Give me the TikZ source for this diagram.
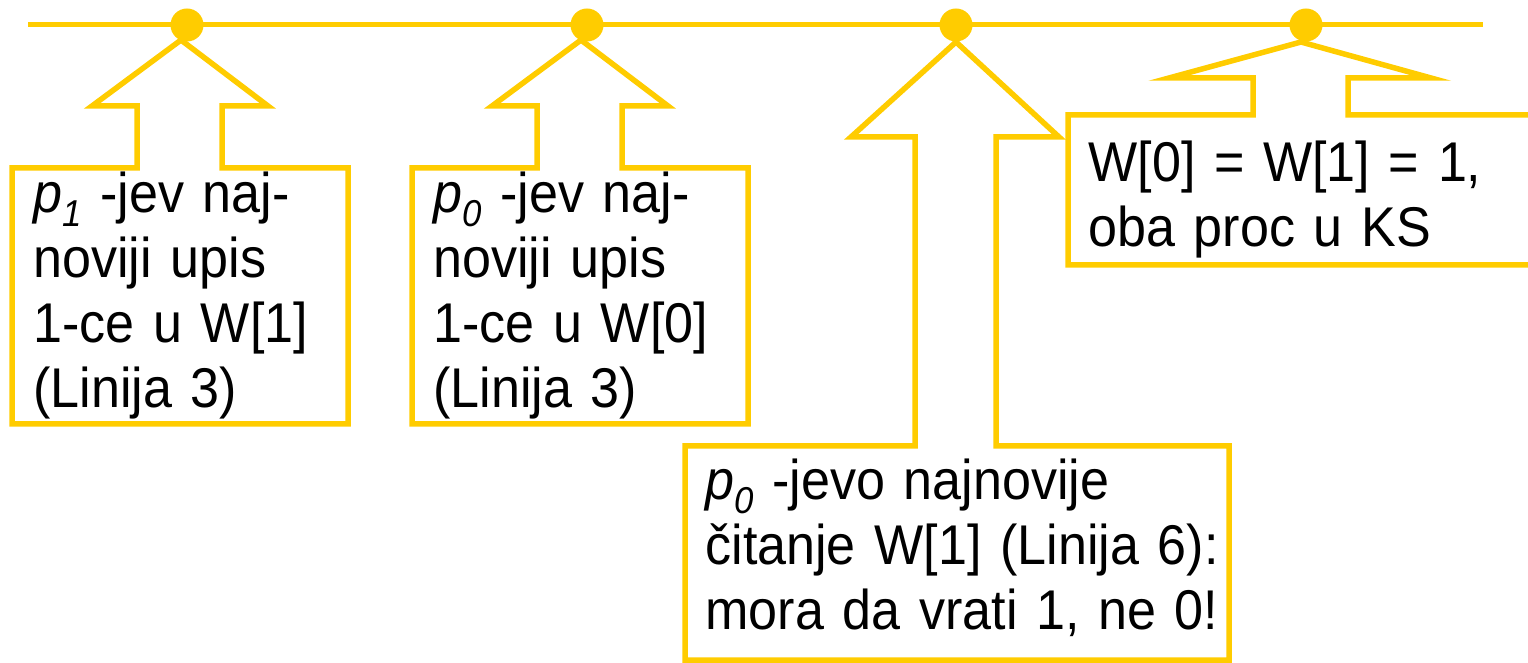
\documentclass[tikz,border=0pt]{standalone}
\usepackage{fontspec}
\setmainfont{Liberation Sans}[FakeStretch=0.93]
\definecolor{calloutyellow}{HTML}{FFCC00}
% italic process name with a lowered, smaller subscript
\newcommand{\procname}[1]{\textit{p\raisebox{-7pt}{\fontsize{18.7}{20}\selectfont #1}}}
\tikzset{
  outline/.style={draw=calloutyellow, line width=2.75pt, line join=miter, fill=white},
  timeline/.style={draw=calloutyellow, line width=2.5pt},
  event/.style={circle, fill=calloutyellow, draw=none, minimum size=16.5pt, inner sep=0pt},
  note/.style={anchor=base west, inner sep=0pt, align=left, text width=400pt,
    font=\fontsize{28pt}{32.5pt}\selectfont},
}
\begin{document}
\begin{tikzpicture}[x=0.5pt, y=-0.5pt]
\useasboundingbox (0,0) rectangle (1528,663);
\begin{scope}
\clip (0,0) rectangle (1528,663);
% callout 1: p1 write
\draw[outline] (12,168) -- (137,168) -- (137,106) -- (92,106) -- (181,40)
  -- (268,106) -- (222,106) -- (222,168) -- (348,168) -- (348,424) -- (12,424) -- cycle;
% callout 2: p0 write
\draw[outline] (412,168) -- (537,168) -- (537,106) -- (492,106) -- (581,40)
  -- (668,106) -- (622,106) -- (622,168) -- (748,168) -- (748,424) -- (412,424) -- cycle;
% callout 3: p0 read
\draw[outline] (685,446) -- (915,446) -- (915,137) -- (851,137) -- (956,42)
  -- (1059,137) -- (996,137) -- (996,446) -- (1229,446) -- (1229,660) -- (685,660) -- cycle;
% callout 4: both in the critical section
\draw[outline] (1068,115) -- (1253,115) -- (1253,78) -- (1169,78) -- (1301,42)
  -- (1431,78) -- (1348,78) -- (1348,115) -- (1560,115) -- (1560,265) -- (1068,265) -- cycle;
\end{scope}

% time line with the four events
\coordinate (tstart) at (28,25);
\coordinate (tend) at (1483,25);
\draw[timeline] (tstart) -- (tend);
\node[event] (e1) at (187,25) {};
\node[event] (e2) at (587,25) {};
\node[event] (e3) at (956,25) {};
\node[event] (e4) at (1306,25) {};

% callout texts
\node[note] (t1) at (33,213) {\procname{1} -jev naj-\\noviji upis\\1-ce u W[1]\\(Linija 3)};
\node[note] (t2) at (433,213) {\procname{0} -jev naj-\\noviji upis\\1-ce u W[0]\\(Linija 3)};
\node[note] (t3) at (705,500) {\procname{0} -jevo najnovije\\čitanje W[1] (Linija 6):\\mora da vrati 1, ne 0!};
\node[note] (t4) at (1088,182) {W[0] = W[1] = 1,\\oba proc u KS};
\end{tikzpicture}
\end{document}
